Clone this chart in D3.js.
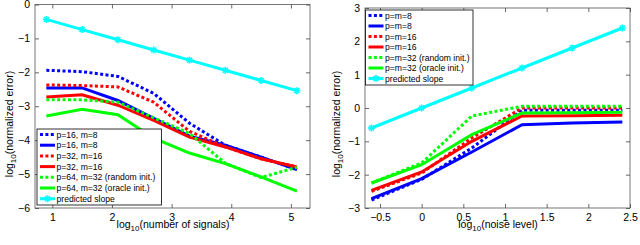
<!DOCTYPE html>
<html>
<head>
<meta charset="utf-8">
<script src="https://cdn.jsdelivr.net/npm/d3@7"></script>
<style>
  body { margin: 0; background: #fff; }
  svg text { font-family: "Liberation Sans", Arial, sans-serif; fill: #000; }
</style>
</head>
<body>
<div id="chart"></div>
<script>
// Left panel: error vs number of signals
var xSignals = [0.9, 1.5, 2.1, 2.7, 3.3, 3.9, 4.5, 5.1];
var p16m8dot   = [-1.94, -1.98, -2.12, -2.62, -3.5, -4.15, -4.5, -4.87];
var p16m8      = [-2.46, -2.46, -2.83, -3.36, -3.88, -4.15, -4.5, -4.87];
var p32m16dot  = [-2.37, -2.39, -2.43, -2.88, -3.74, -4.2, -4.55, -4.79];
var p32m16     = [-2.73, -2.66, -2.97, -3.42, -3.91, -4.2, -4.55, -4.79];
var p64random  = [-2.81, -2.81, -2.88, -3.34, -3.8, -4.68, -5.1, -4.8];
var p64oracle  = [-3.29, -3.09, -3.25, -3.94, -4.38, -4.69, -5.08, -5.5];
var slopeLeft  = [-0.44, -0.74, -1.04, -1.34, -1.64, -1.94, -2.24, -2.54];
var leftNames = ["p=16, m=8", "p=16, m=8", "p=32, m=16", "p=32, m=16",
  "p=64, m=32 (random init.)", "p=64, m=32 (oracle init.)", "predicted slope"];

// Right panel: error vs noise level
var xNoise = [-0.602, 0, 0.602, 1.204, 1.806, 2.408];
var pm8dot    = [-2.76, -2.14, -1.2, -0.07, -0.07, -0.07];
var pm8       = [-2.72, -2.12, -1.32, -0.5, -0.45, -0.42];
var pm16dot   = [-2.5, -1.95, -0.9, 0.0, 0.0, 0.0];
var pm16      = [-2.47, -1.92, -1.0, -0.24, -0.23, -0.22];
var pm32rand  = [-2.25, -1.65, -0.24, 0.05, 0.05, 0.05];
var pm32orac  = [-2.25, -1.7, -0.8, -0.15, -0.14, -0.13];
var slopeRight = [-0.6, 0, 0.6, 1.2, 1.8, 2.4];
var rightNames = ["p=m=8", "p=m=8", "p=m=16", "p=m=16",
  "p=m=32 (random init.)", "p=m=32 (oracle init.)", "predicted slope"];

var xTicksLeft = [1, 2, 3, 4, 5];
var yTicksLeft = [0, -1, -2, -3, -4, -5, -6];
var xTicksRight = [-0.5, 0, 0.5, 1, 1.5, 2, 2.5];
var yTicksRight = [3, 2, 1, 0, -1, -2, -3];

var colors = ["#0000ff", "#0000ff", "#ff0000", "#ff0000", "#00ff00", "#00ff00", "#00ffff"];
var dashed = [true, false, true, false, true, false, false];

var svg = d3.select("#chart").append("svg")
  .attr("width", 640)
  .attr("height", 245);

function asterisk(g, x, y) {
  var r = 3.5;
  [0, 45, 90, 135].forEach(function (a) {
    var rad = a * Math.PI / 180;
    g.append("line")
      .attr("x1", x - r * Math.cos(rad)).attr("y1", y - r * Math.sin(rad))
      .attr("x2", x + r * Math.cos(rad)).attr("y2", y + r * Math.sin(rad))
      .attr("stroke", "#00ffff").attr("stroke-width", 1.6);
  });
}

function panel(opt) {
  var x = d3.scaleLinear().domain(opt.xdom).range([opt.left, opt.right]);
  var y = d3.scaleLinear().domain(opt.ydom).range([opt.bottom, opt.top]);
  var g = svg.append("g");

  var line = d3.line()
    .x(function (d, i) { return x(opt.xs[i]); })
    .y(function (d) { return y(d); });

  // series, slope drawn last like the original
  opt.series.forEach(function (s, k) {
    var path = g.append("path")
      .attr("d", line(s))
      .attr("fill", "none")
      .attr("stroke", colors[k])
      .attr("stroke-width", 3);
    if (dashed[k]) path.attr("stroke-dasharray", "3,2.4");
    if (k == 6) {
      s.forEach(function (v, i) { asterisk(g, x(opt.xs[i]), y(v)); });
    }
  });

  // frame with inward ticks on all four sides
  var axB = d3.axisBottom(x).tickValues(opt.xticks).tickSizeInner(-4).tickSizeOuter(0)
    .tickPadding(5).tickFormat(d3.format(""));
  var axT = d3.axisTop(x).tickValues(opt.xticks).tickSizeInner(-4).tickSizeOuter(0).tickFormat("");
  var axL = d3.axisLeft(y).tickValues(opt.yticks).tickSizeInner(-4).tickSizeOuter(0)
    .tickPadding(5).tickFormat(function (d) { return d < 0 ? "\u2212" + (-d) : d; });
  var axR = d3.axisRight(y).tickValues(opt.yticks).tickSizeInner(-4).tickSizeOuter(0).tickFormat("");

  var ax = [
    g.append("g").attr("transform", "translate(0," + opt.bottom + ")").call(axB),
    g.append("g").attr("transform", "translate(0," + opt.top + ")").call(axT),
    g.append("g").attr("transform", "translate(" + opt.left + ",0)").call(axL),
    g.append("g").attr("transform", "translate(" + opt.right + ",0)").call(axR)
  ];
  ax.forEach(function (a) {
    a.select(".domain").remove();
    a.selectAll("line").attr("stroke", "#000").attr("stroke-width", 0.6);
    a.selectAll("text").style("font-size", "10.5px").attr("fill", "#000");
  });
  ax[0].selectAll("text").attr("dy", "0.75em");
  ax[0].selectAll("text").filter(function (d) { return d < 0; })
    .text(function (d) { return "\u2212" + (-d); });

  g.append("rect")
    .attr("x", opt.left).attr("y", opt.top)
    .attr("width", opt.right - opt.left).attr("height", opt.bottom - opt.top)
    .attr("fill", "none").attr("stroke", "#555").attr("stroke-width", 0.8);

  // legend
  var L = opt.legend;
  g.append("rect")
    .attr("x", L.x).attr("y", L.y).attr("width", L.w).attr("height", L.h)
    .attr("fill", "#fff").attr("stroke", "#000").attr("stroke-width", 0.8);
  opt.names.forEach(function (n, k) {
    var ly = L.y + 5.5 + k * L.step;
    var ln = g.append("line")
      .attr("x1", L.x + 3).attr("x2", L.x + 18)
      .attr("y1", ly).attr("y2", ly)
      .attr("stroke", colors[k]).attr("stroke-width", 3);
    if (dashed[k]) ln.attr("stroke-dasharray", "3,2.4");
    if (k == 6) asterisk(g, L.x + 10.5, ly);
    g.append("text")
      .attr("x", L.x + 19.5).attr("y", ly + 3)
      .style("font-size", "8.6px")
      .text(n);
  });

  // axis labels with subscript 10
  var xl = g.append("text")
    .attr("x", opt.xlab[0]).attr("y", opt.xlab[1])
    .attr("text-anchor", "middle")
    .style("font-size", "10.5px");
  xl.append("tspan").text("log");
  xl.append("tspan").attr("dy", 3).style("font-size", "8px").text("10");
  xl.append("tspan").attr("dy", -3).text("(" + opt.xlabText + ")");

  var yl = g.append("text")
    .attr("transform", "translate(" + opt.ylab[0] + "," + opt.ylab[1] + ") rotate(-90)")
    .attr("text-anchor", "middle")
    .style("font-size", "10.5px");
  yl.append("tspan").text("log");
  yl.append("tspan").attr("dy", 3).style("font-size", "8px").text("10");
  yl.append("tspan").attr("dy", -3).text("(normalized error)");
}

panel({
  xs: xSignals,
  series: [p16m8dot, p16m8, p32m16dot, p32m16, p64random, p64oracle, slopeLeft],
  names: leftNames,
  xdom: [0.71, 5.32], ydom: [-6, 0],
  left: 35, right: 310, top: 4.5, bottom: 208,
  xticks: xTicksLeft, yticks: yTicksLeft,
  legend: { x: 37, y: 129, w: 124.5, h: 76, step: 10.7 },
  xlab: [173, 228], xlabText: "number of signals",
  ylab: [13, 124]
});

panel({
  xs: xNoise,
  series: [pm8dot, pm8, pm16dot, pm16, pm32rand, pm32orac, slopeRight],
  names: rightNames,
  xdom: [-0.68, 2.5], ydom: [-3, 3],
  left: 365, right: 630, top: 8, bottom: 208,
  xticks: xTicksRight, yticks: yTicksRight,
  legend: { x: 365.5, y: 10, w: 107.5, h: 75, step: 10.5 },
  xlab: [498, 228], xlabText: "noise level",
  ylab: [340, 124]
});
</script>
</body>
</html>
